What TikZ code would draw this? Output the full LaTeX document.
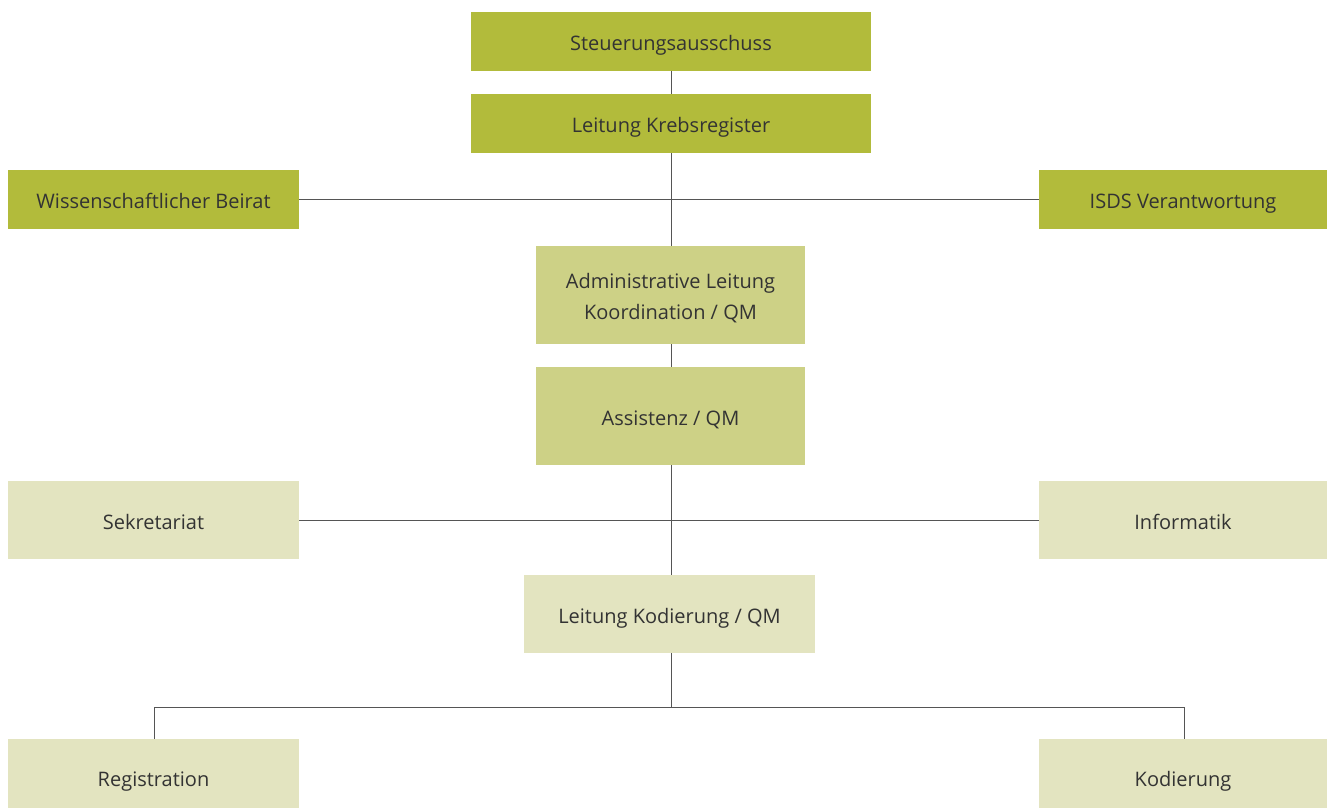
\documentclass[tikz,border=0pt]{standalone}
\usepackage{fontspec}
\setmainfont{Open Sans}
\definecolor{gdark}{HTML}{B2BB3B}
\definecolor{gmid}{HTML}{CDD186}
\definecolor{glight}{HTML}{E3E4C0}
\definecolor{txt}{HTML}{333333}
\definecolor{ln}{HTML}{555555}
\begin{document}
\begin{tikzpicture}[x=1pt,y=-1pt,
  box/.style={draw=none,inner sep=0pt,outer sep=0pt,text=txt,align=center,
    font=\fontsize{20}{31}\selectfont,text height=18pt,text depth=0pt},
  conn/.style={draw=ln,line width=0.9pt}]
\useasboundingbox (0,0) rectangle (1327,807);
\node[box,fill=gdark,minimum width=400pt,minimum height=59pt] (st) at (671,41.5) {Steuerungsausschuss};
\node[box,fill=gdark,minimum width=400pt,minimum height=59pt] (lk) at (671,123.5) {Leitung Krebsregister};
\node[box,fill=gdark,minimum width=291pt,minimum height=59pt] (wb) at (153.5,199.5) {Wissenschaftlicher Beirat};
\node[box,fill=gdark,minimum width=288pt,minimum height=59pt] (isds) at (1183,199.5) {ISDS Verantwortung};
\node[box,fill=gmid,minimum width=269pt,minimum height=98pt,text height=18pt,text depth=32pt] (al) at (670.5,295)
  {\begin{tabular}[t]{@{}c@{}}Administrative Leitung\\Koordination / QM\end{tabular}};
\node[box,fill=gmid,minimum width=269pt,minimum height=98pt] (as) at (670.5,416) {Assistenz / QM};
\node[box,fill=glight,minimum width=291pt,minimum height=78pt] (sk) at (153.5,520) {Sekretariat};
\node[box,fill=glight,minimum width=288pt,minimum height=78pt] (inf) at (1183,520) {Informatik};
\node[box,fill=glight,minimum width=291pt,minimum height=78pt] (lko) at (669.5,614) {Leitung Kodierung / QM};
\node[box,fill=glight,minimum width=291pt,minimum height=76pt] (reg) at (153.5,777) {Registration};
\node[box,fill=glight,minimum width=288pt,minimum height=76pt] (kod) at (1183,777) {Kodierung};
\coordinate (j1) at (671,199.5);
\coordinate (j3) at (671,707);
\draw[conn] (st.south -| j1) -- (lk.north -| j1);
\draw[conn] (lk.south -| j1) -- (al.north -| j1);
\draw[conn] (wb.east) -- (isds.west);
\draw[conn] (al.south -| j1) -- (as.north -| j1);
\draw[conn] (as.south -| j1) -- (lko.north -| j1);
\draw[conn] (sk.east) -- (inf.west);
\draw[conn] (lko.south -| j1) -- (j3);
\draw[conn] (reg.north -| 154,0) -- (154,707) -- (1184.5,707) -- (kod.north -| 1184.5,0);
\end{tikzpicture}
\end{document}
